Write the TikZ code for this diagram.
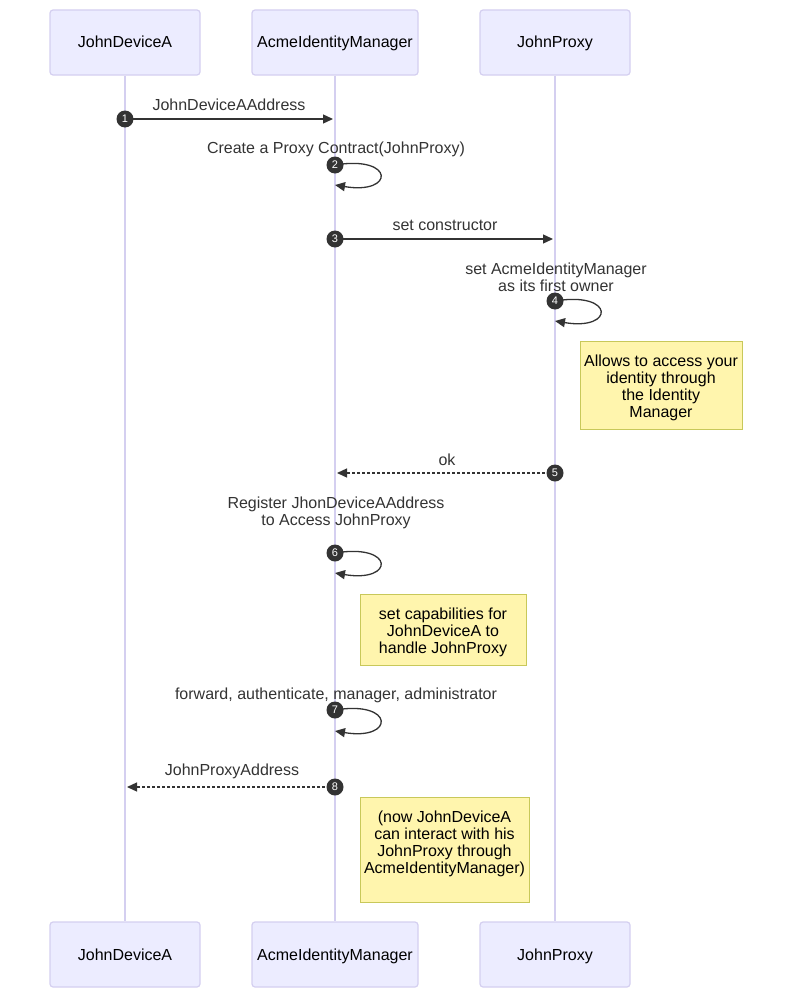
\documentclass[tikz,border=0pt]{standalone}
\usepackage{fontspec}
\setmainfont{Liberation Sans}
\usetikzlibrary{arrows.meta}
\definecolor{actorfill}{HTML}{ECECFF}
\definecolor{actorline}{HTML}{D4CFF0}
\definecolor{notefill}{HTML}{FFF5AD}
\definecolor{noteline}{HTML}{C8C85A}
\definecolor{ink}{HTML}{333333}
\tikzset{
  actor/.style={draw=actorline,fill=actorfill,rounded corners=3pt,line width=1.2pt,minimum height=65pt,text=black,text height=12pt,text depth=1pt},
  life/.style={draw=actorline,line width=1.6pt},
  msg/.style={draw=ink,line width=1.3pt,-{Triangle[length=10pt,width=9pt]}},
  reply/.style={msg,dash pattern=on 3pt off 2pt},
  msglabel/.style={text=ink,align=center,inner sep=0pt},
  seqno/.style={circle,fill=ink,text=white,inner sep=0pt,minimum size=17pt,font=\fontsize{11}{11}\selectfont},
  note/.style={draw=noteline,fill=notefill,line width=1pt,align=center,text=black,inner sep=0pt,text depth=0pt}
}
\begin{document}
\begin{tikzpicture}[x=1pt,y=-1pt,font=\fontsize{16}{17}\selectfont]
\useasboundingbox (0,0) rectangle (792,998);
% actors
\node[actor,minimum width=150pt] (devA) at (125,42.5) {JohnDeviceA};
\node[actor,minimum width=166pt] (acme) at (335,42.5) {AcmeIdentityManager};
\node[actor,minimum width=150pt] (proxy) at (555,42.5) {JohnProxy};
\node[actor,minimum width=150pt] (devAb) at (125,954.5) {JohnDeviceA};
\node[actor,minimum width=166pt] (acmeb) at (335,954.5) {AcmeIdentityManager};
\node[actor,minimum width=150pt] (proxyb) at (555,954.5) {JohnProxy};
\draw[life] (devA.south) -- (devAb.north);
\draw[life] (acme.south) -- (acmeb.north);
\draw[life] (proxy.south) -- (proxyb.north);
% 1
\coordinate (m1e) at (333,119);
\node[msglabel] (l1) at (229,105) {JohnDeviceAAddress};
\draw[msg] (125,119) coordinate (m1s) -- (m1e);
\node[seqno] (n1) at (m1s) {1};
% 2
\node[msglabel] (l2) at (336,149) {Create a Proxy Contract(JohnProxy)};
\coordinate (m2s) at (335,165);
\coordinate (m2e) at (335,185);
\draw[msg] (m2s) .. controls (395,155) and (395,195) .. (m2e);
\node[seqno] (n2) at (m2s) {2};
% 3
\node[msglabel] (l3) at (445,225) {set constructor};
\coordinate (m3s) at (335,239);
\coordinate (m3e) at (553,239);
\draw[msg] (m3s) -- (m3e);
\node[seqno] (n3) at (m3s) {3};
% 4
\node[msglabel] (l4) at (556,277) {set AcmeIdentityManager\\as its first owner};
\coordinate (m4s) at (555,301);
\coordinate (m4e) at (555,321);
\draw[msg] (m4s) .. controls (615,291) and (615,331) .. (m4e);
\node[seqno] (n4) at (m4s) {4};
\node[note,minimum width=162pt,minimum height=88pt,text height=65pt] (note1) at (661,385) {Allows to access your\\identity through\\the Identity\\Manager};
% 5
\node[msglabel] (l5) at (447,460) {ok};
\coordinate (m5s) at (555,473);
\coordinate (m5e) at (337,473);
\draw[reply] (m5s) -- (m5e);
\node[seqno] (n5) at (m5s) {5};
% 6
\node[msglabel] (l6) at (336,513) {Register JhonDeviceAAddress\\to Access JohnProxy};
\coordinate (m6s) at (335,553);
\coordinate (m6e) at (335,573);
\draw[msg] (m6s) .. controls (395,543) and (395,583) .. (m6e);
\node[seqno] (n6) at (m6s) {6};
\node[note,minimum width=166pt,minimum height=71pt,text height=48pt] (note2) at (443,629.5) {set capabilities for\\JohnDeviceA to\\handle JohnProxy};
% 7
\node[msglabel] (l7) at (336,695) {forward, authenticate, manager, administrator};
\coordinate (m7s) at (335,710);
\coordinate (m7e) at (335,731);
\draw[msg] (m7s) .. controls (395,700) and (395,741) .. (m7e);
\node[seqno] (n7) at (m7s) {7};
% 8
\node[msglabel] (l8) at (232,771) {JohnProxyAddress};
\coordinate (m8s) at (335,787);
\coordinate (m8e) at (127,787);
\draw[reply] (m8s) -- (m8e);
\node[seqno] (n8) at (m8s) {8};
\node[note,minimum width=169pt,minimum height=105pt,text height=47pt] (note3) at (444.5,849.5) {(now JohnDeviceA\\can interact with his\\JohnProxy through\\AcmeIdentityManager)};
\end{tikzpicture}
\end{document}
